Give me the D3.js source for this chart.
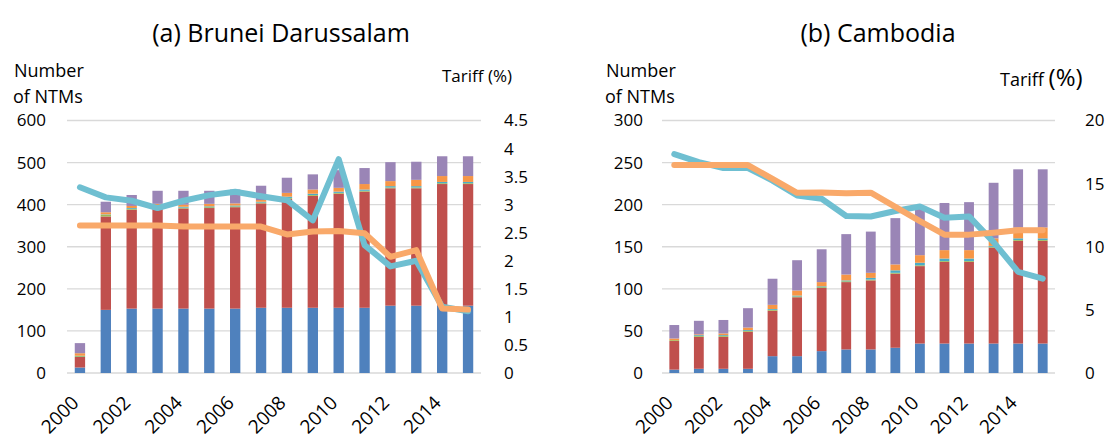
<!DOCTYPE html>
<html>
  <head>
    <meta charset="utf-8">
    <script src="https://cdn.jsdelivr.net/npm/d3@7"></script>
    <style>
      body { margin: 0; background: #fff; }
      text { font-family: 'Open Sans', 'Noto Sans', sans-serif; fill: #000; }
    </style>
  </head>
  <body>
    <svg width="1110" height="434"></svg>
    <script>
      // categories
      const years = ['2000', '2001', '2002', '2003', '2004', '2005', '2006', '2007',
        '2008', '2009', '2010', '2011', '2012', '2013', '2014', '2015']
      const yearLabels = ['2000', '2002', '2004', '2006', '2008', '2010', '2012', '2014']

      // (a) Brunei Darussalam - number of NTMs by type (stacked)
      const bnBlue   = [13, 150, 153, 153, 153, 153, 153, 155, 155, 155, 155, 155, 160, 160, 160, 160]
      const bnRed    = [25, 222, 235, 237, 238, 239, 241, 248, 259, 266, 271, 276, 279, 279, 289, 289]
      const bnGreen  = [2, 4, 2, 2, 2, 2, 2, 2, 2, 2, 2, 2, 2, 2, 2, 2]
      const bnTeal   = [1, 1, 2, 2, 2, 2, 2, 2, 3, 3, 3, 3, 3, 3, 3, 3]
      const bnOrange = [6, 5, 5, 8, 5, 6, 5, 4, 9, 10, 9, 13, 12, 15, 14, 14]
      const bnPurple = [24, 25, 26, 31, 33, 31, 33, 34, 36, 36, 42, 38, 45, 43, 47, 47]
      // tariffs (%)
      const bnTariff1 = [3.31, 3.13, 3.07, 2.94, 3.07, 3.17, 3.23, 3.15, 3.08, 2.72, 3.81, 2.28, 1.90, 2.00, 1.18, 1.10]
      const bnTariff2 = [2.63, 2.63, 2.63, 2.63, 2.61, 2.61, 2.61, 2.61, 2.47, 2.52, 2.53, 2.49, 2.07, 2.19, 1.15, 1.13]

      // (b) Cambodia
      const khBlue   = [4, 5, 5, 5, 20, 20, 26, 28, 28, 30, 35, 35, 35, 35, 35, 35]
      const khRed    = [34, 38, 38, 44, 54, 70, 75, 80, 82, 88, 92, 97, 97, 114, 122, 122]
      const khGreen  = [1, 1, 1, 1, 1, 1, 1, 1, 1, 1, 1, 1, 1, 1, 1, 1]
      const khTeal   = [0, 1, 1, 1, 1, 1, 1, 1, 2, 3, 3, 3, 3, 1, 2, 2]
      const khOrange = [2, 1, 2, 3, 5, 6, 5, 7, 6, 7, 9, 10, 10, 9, 13, 13]
      const khPurple = [16, 16, 16, 23, 31, 36, 39, 48, 49, 55, 55, 56, 57, 66, 69, 69]
      const khTariff1 = [17.34, 16.7, 16.24, 16.24, 15.24, 14.06, 13.8, 12.43, 12.4, 12.83, 13.19, 12.3, 12.4, 10.37, 8.01, 7.48]
      const khTariff2 = [16.47, 16.47, 16.47, 16.47, 15.37, 14.27, 14.3, 14.24, 14.28, 13.16, 12.03, 10.96, 10.96, 11.11, 11.3, 11.3]

      // axis ticks
      const bnLeftTicks = [0, 100, 200, 300, 400, 500, 600]
      const bnRightTicks = [0, 0.5, 1, 1.5, 2, 2.5, 3, 3.5, 4, 4.5]
      const khLeftTicks = [0, 50, 100, 150, 200, 250, 300]
      const khRightTicks = [0, 5, 10, 15, 20]

      const seriesKeys = ['blue', 'red', 'green', 'teal', 'orange', 'purple']
      const barColors = {
        blue: '#4F81BD', red: '#C0504D', green: '#9BBB59',
        teal: '#4BACC6', orange: '#F79646', purple: '#9A85B6'
      }
      const lineColors = ['#6FBFD1', '#F9A96A']

      const svg = d3.select('svg')

      function drawPanel(p) {
        const g = svg.append('g')

        const x = d3.scaleBand().domain(years).range([p.x0, p.x1])
          .paddingInner(0.6).paddingOuter(0.3)
        const yL = d3.scaleLinear().domain([0, p.leftMax]).range([373, 120.5])
        const yR = d3.scaleLinear().domain([0, p.rightMax]).range([373, 120.5])

        // gridlines
        g.append('g').selectAll('line')
          .data(p.leftTicks)
          .enter()
          .append('line')
          .attr('x1', p.x0).attr('x2', p.x1)
          .attr('y1', (d) => yL(d)).attr('y2', (d) => yL(d))
          .attr('stroke', '#D9D9D9')
          .attr('stroke-width', 1.3)

        // stacked bars
        const rows = years.map((yr, i) => {
          const r = { year: yr }
          seriesKeys.forEach((k) => (r[k] = p.bars[k][i]))
          return r
        })
        const stacked = d3.stack().keys(seriesKeys)(rows)
        g.append('g').selectAll('g')
          .data(stacked)
          .enter()
          .append('g')
          .attr('fill', (d) => barColors[d.key])
          .selectAll('rect')
          .data((d) => d)
          .enter()
          .append('rect')
          .attr('x', (d) => x(d.data.year))
          .attr('width', x.bandwidth())
          .attr('y', (d) => yL(d[1]))
          .attr('height', (d) => yL(d[0]) - yL(d[1]))

        // tariff lines
        const line = d3.line()
          .x((d, i) => x(years[i]) + x.bandwidth() / 2)
          .y((d) => yR(d))
        p.lines.forEach((vals, j) => {
          g.append('path')
            .datum(vals)
            .attr('d', line)
            .attr('fill', 'none')
            .attr('stroke', lineColors[j])
            .attr('stroke-width', 6)
            .attr('stroke-linecap', 'round')
            .attr('stroke-linejoin', 'round')
        })

        // left axis labels
        const axL = d3.axisLeft(yL).tickValues(p.leftTicks).tickSize(0).tickPadding(0)
        g.append('g')
          .attr('transform', `translate(${p.leftLabelX},0)`)
          .call(axL)
          .call((s) => s.select('.domain').remove())
          .selectAll('text')
          .attr('font-size', 17)
          .attr('font-family', "'Open Sans', sans-serif")

        // right axis labels
        const axR = d3.axisRight(yR).tickValues(p.rightTicks).tickSize(0).tickPadding(0)
          .tickFormat(d3.format('~g'))
        g.append('g')
          .attr('transform', `translate(${p.rightLabelX},0)`)
          .call(axR)
          .call((s) => s.select('.domain').remove())
          .selectAll('text')
          .attr('font-size', 17)
          .attr('font-family', "'Open Sans', sans-serif")

        // year labels, rotated
        g.append('g').selectAll('text')
          .data(yearLabels)
          .enter()
          .append('text')
          .attr('transform', (d) => `translate(${x(d) + x.bandwidth() / 2},404) rotate(-45)`)
          .attr('text-anchor', 'end')
          .attr('font-size', 19)
          .text((d) => d)

        // title
        g.append('text')
          .attr('x', p.titleX)
          .attr('y', 42)
          .attr('text-anchor', 'middle')
          .attr('font-size', 25)
          .text(p.title)

        // left axis title
        g.append('text').attr('x', p.numX).attr('y', 77).attr('font-size', 18).text('Number')
        g.append('text').attr('x', p.numX - 1).attr('y', 103).attr('font-size', 18).text('of NTMs')

        // right axis title
        p.tariff(g)
      }

      drawPanel({
        x0: 67, x1: 481,
        leftMax: 600, rightMax: 4.5,
        leftTicks: bnLeftTicks, rightTicks: bnRightTicks,
        leftLabelX: 46, rightLabelX: 504,
        bars: { blue: bnBlue, red: bnRed, green: bnGreen, teal: bnTeal, orange: bnOrange, purple: bnPurple },
        lines: [bnTariff1, bnTariff2],
        title: '(a) Brunei Darussalam', titleX: 281,
        numX: 14,
        tariff: (g) => {
          g.append('text').attr('x', 442).attr('y', 82).attr('font-size', 17).text('Tariff (%)')
        }
      })

      drawPanel({
        x0: 662, x1: 1055,
        leftMax: 300, rightMax: 20,
        leftTicks: khLeftTicks, rightTicks: khRightTicks,
        leftLabelX: 643, rightLabelX: 1085,
        bars: { blue: khBlue, red: khRed, green: khGreen, teal: khTeal, orange: khOrange, purple: khPurple },
        lines: [khTariff1, khTariff2],
        title: '(b) Cambodia', titleX: 878,
        numX: 606,
        tariff: (g) => {
          const t = g.append('text').attr('x', 1000).attr('y', 86).attr('font-size', 18)
          t.append('tspan').text('Tariff ')
          t.append('tspan').attr('font-size', 24).text('(%)')
        }
      })
    </script>
  </body>
</html>
